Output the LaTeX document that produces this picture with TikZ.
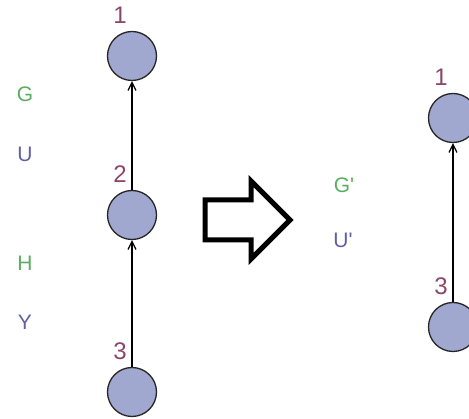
\documentclass[tikz,border=0pt]{standalone}
\usepackage{fontspec}
\setmainfont{Liberation Sans}
\usetikzlibrary{positioning,arrows.meta}
\definecolor{vertexfill}{RGB}{160,168,208}
\definecolor{numcolor}{RGB}{140,70,105}
\definecolor{attrgreen}{RGB}{90,175,95}
\definecolor{attrblue}{RGB}{95,95,165}

\begin{document}
\begin{tikzpicture}[
    x=1pt, y=-1pt,
    node distance=7pt and 5pt,
    vertex/.style={circle, draw=black!85, fill=vertexfill, line width=1.3pt, minimum size=49pt, inner sep=0pt},
    num/.style={text=numcolor, inner sep=0pt, font=\fontsize{24}{24}\selectfont},
    attr/.style={inner sep=0pt, font=\fontsize{21}{21}\selectfont},
    arrow/.style={-{Straight Barb[length=8pt,width=8pt]}, line width=1.2pt}
  ]
    \useasboundingbox (0,0) rectangle (469,419);
    \clip (0,0) rectangle (469,419);
    % left tree
    \node[vertex] (a1) at (132,56) {};
    \node[vertex] (a2) at (132,215) {};
    \node[vertex] (a3) at (132,392) {};
    \node[num, above left=of a1.north, anchor=south east] (na1) {1};
    \node[num, above left=of a2.north, anchor=south east] (na2) {2};
    \node[num, above left=of a3.north, anchor=south east] (na3) {3};
    \draw[arrow] (a2) -- (a1);
    \draw[arrow] (a3) -- (a2);
    \node[attr, text=attrgreen] (g) at (25,94) {G};
    \node[attr, text=attrblue] (u) at (25,154) {U};
    \node[attr, text=attrgreen] (h) at (25,263) {H};
    \node[attr, text=attrblue] (y) at (25,322) {Y};
    % big arrow
    \draw[line width=5pt, line join=miter]
      (205,200) -- (251,200) -- (251,181) -- (290,220) -- (251,259) -- (251,240) -- (205,240) -- cycle;
    % right tree
    \node[attr, text=attrgreen] (g2) at (344,185) {G\textquotesingle};
    \node[attr, text=attrblue] (u2) at (343,240) {U\textquotesingle};
    \node[vertex] (b1) at (453,118) {};
    \node[vertex] (b3) at (453,327) {};
    \node[num, above left=of b1.north, anchor=south east] (nb1) {1};
    \node[num, above left=of b3.north, anchor=south east] (nb3) {3};
    \draw[arrow] (b3) -- (b1);
  \end{tikzpicture}
\end{document}
